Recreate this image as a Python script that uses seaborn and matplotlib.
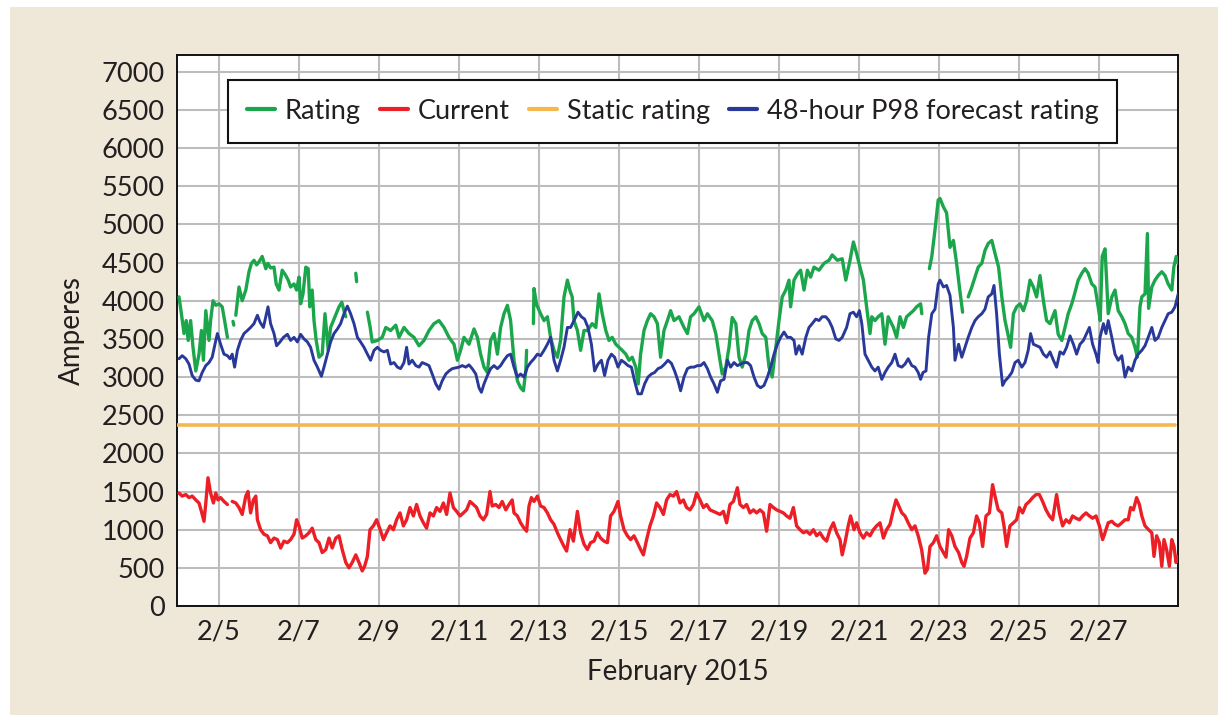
import numpy as np
import pandas as pd
import matplotlib
matplotlib.use("Agg")
import matplotlib.pyplot as plt
import matplotlib.dates as mdates
from matplotlib.lines import Line2D
from matplotlib.patches import Rectangle
from matplotlib.ticker import FuncFormatter
import seaborn as sns

# -----------------------------
# Data: (days after 2/4 00:00, amperes)
# -----------------------------
start = pd.Timestamp("2015-02-04")
GAP = (np.nan, np.nan)

rating = [
    (0.00, 4050), (0.06, 3830), (0.125, 3570), (0.18, 3740), (0.23, 3480), (0.29, 3740),
    (0.35, 3390), (0.42, 3080), (0.50, 3300), (0.56, 3610), (0.61, 3220), (0.67, 3870),
    (0.75, 3480), (0.79, 3740), (0.85, 4000), (0.92, 3940), (1.00, 3960), (1.08, 3920),
    (1.14, 3740), (1.21, 3520), GAP, (1.35, 3730), (1.37, 3680), GAP,
    (1.42, 3810), (1.50, 4180), (1.58, 4000), (1.67, 4140), (1.75, 4380), (1.81, 4490),
    (1.875, 4530), (1.94, 4470), (2.00, 4510), (2.08, 4580), (2.17, 4420), (2.22, 4490),
    (2.29, 4430), (2.375, 4440), (2.43, 4220), (2.50, 4140), (2.58, 4400), (2.67, 4330),
    (2.73, 4270), (2.79, 4180), (2.875, 4220), (2.94, 4140), (3.00, 4310), (3.04, 3960),
    (3.10, 4090), (3.17, 4440), (3.23, 4420), (3.27, 3920), (3.33, 4140), (3.375, 3740),
    (3.43, 3480), (3.50, 3260), (3.58, 3300), (3.65, 3830), (3.73, 3350), (3.79, 3650),
    (3.86, 3740), (3.93, 3830), (4.00, 3920), (4.07, 3980), (4.125, 3870), (4.17, 3790),
    GAP, (4.42, 4360), (4.44, 4250), GAP,
    (4.71, 3850), (4.78, 3650), (4.83, 3460), (4.96, 3480), (5.08, 3520), (5.17, 3650),
    (5.29, 3610), (5.42, 3680), (5.50, 3520), (5.625, 3650), (5.75, 3570), (5.875, 3520),
    (6.00, 3410), (6.125, 3480), (6.25, 3610), (6.375, 3700), (6.50, 3740), (6.625, 3650),
    (6.75, 3520), (6.875, 3430), (6.96, 3220), (7.04, 3350), (7.125, 3520), (7.25, 3430),
    (7.375, 3630), (7.46, 3520), (7.54, 3300), (7.625, 3130), (7.71, 3060), (7.79, 3480),
    (7.875, 3570), (7.96, 3300), (8.04, 3650), (8.125, 3830), (8.21, 3940), (8.29, 3740),
    (8.375, 3220), (8.46, 2950), (8.54, 2860), (8.61, 2820), (8.67, 3080), (8.69, 3350),
    GAP,
    (8.86, 3700), (8.875, 4160), (8.94, 3950), (9.04, 3830), (9.125, 3740), (9.21, 3790),
    (9.29, 3520), (9.375, 3350), (9.46, 3260), (9.54, 3480), (9.625, 4050), (9.71, 4270),
    (9.77, 4140), (9.83, 4050), (9.875, 3740), (9.96, 3610), (10.04, 3350), (10.125, 3610),
    (10.21, 3610), (10.33, 3700), (10.42, 3650), (10.50, 4090), (10.58, 3830), (10.67, 3610),
    (10.75, 3480), (10.83, 3520), (10.92, 3430), (11.00, 3390), (11.08, 3350), (11.17, 3300),
    (11.25, 3220), (11.33, 3260), (11.42, 3130), (11.48, 2910), (11.54, 3300), (11.625, 3610),
    (11.71, 3740), (11.79, 3830), (11.875, 3790), (11.96, 3700), (12.04, 3260), (12.125, 3610),
    (12.21, 3740), (12.29, 3870), (12.375, 3740), (12.50, 3790), (12.625, 3650), (12.71, 3570),
    (12.79, 3790), (12.875, 3830), (13.00, 3920), (13.125, 3740), (13.21, 3830), (13.33, 3740),
    (13.42, 3570), (13.50, 3300), (13.58, 3040), (13.67, 3130), (13.75, 3390), (13.83, 3780),
    (13.92, 3700), (14.00, 3260), (14.08, 3130), (14.17, 3300), (14.25, 3610), (14.33, 3740),
    (14.42, 3790), (14.50, 3700), (14.58, 3570), (14.67, 3520), (14.75, 3130), (14.83, 3000),
    (14.92, 3390), (15.00, 3740), (15.08, 4050), (15.17, 4140), (15.25, 4270), (15.29, 3920),
    (15.375, 4270), (15.46, 4350), (15.54, 4400), (15.625, 4140), (15.71, 4400), (15.79, 4310),
    (15.875, 4440), (16.00, 4400), (16.125, 4490), (16.25, 4530), (16.33, 4600), (16.46, 4530),
    (16.58, 4550), (16.67, 4270), (16.775, 4530), (16.86, 4770), (16.94, 4620), (17.025, 4440),
    (17.11, 4270), (17.19, 3920), (17.275, 3570), (17.32, 3790), (17.40, 3740), (17.48, 3790),
    (17.57, 3830), (17.65, 3430), (17.73, 3790), (17.86, 3650), (17.94, 3520), (18.025, 3790),
    (18.11, 3650), (18.19, 3790), (18.275, 3830), (18.36, 3870), (18.44, 3920), (18.54, 3960),
    (18.57, 3830), GAP,
    (18.76, 4420), (18.82, 4580), (18.90, 4930), (18.98, 5320), (19.025, 5340), (19.11, 5230),
    (19.19, 5150), (19.275, 4700), (19.36, 4790), (19.44, 4490), (19.51, 4180), (19.59, 3850),
    GAP,
    (19.73, 4050), (19.82, 4180), (19.90, 4310), (19.98, 4440), (20.07, 4490), (20.15, 4660),
    (20.23, 4750), (20.32, 4790), (20.40, 4620), (20.49, 4440), (20.57, 4050), (20.65, 3740),
    (20.74, 3520), (20.79, 3390), (20.86, 3830), (20.94, 3920), (21.025, 3960), (21.11, 3870),
    (21.19, 4000), (21.275, 4270), (21.36, 4180), (21.44, 4050), (21.525, 4330), (21.61, 4000),
    (21.69, 3740), (21.775, 3700), (21.90, 3870), (21.98, 3560), (22.07, 3480), (22.15, 3650),
    (22.23, 3830), (22.32, 3960), (22.40, 4110), (22.48, 4270), (22.57, 4360), (22.65, 4420),
    (22.73, 4360), (22.82, 4220), (22.90, 4180), (22.98, 3920), (23.03, 3740), (23.08, 4580),
    (23.15, 4680), (23.19, 4270), (23.23, 3830), (23.32, 4050), (23.40, 4140), (23.48, 3870),
    (23.57, 3790), (23.65, 3700), (23.73, 3570), (23.82, 3520), (23.90, 3390), (23.96, 3260),
    (24.025, 3920), (24.07, 4050), (24.15, 4090), (24.21, 4880), (24.24, 3900), (24.32, 4180),
    (24.40, 4270), (24.48, 4330), (24.57, 4380), (24.65, 4330), (24.73, 4220), (24.82, 4140),
    (24.87, 4440), (24.93, 4580), (24.98, 4490),
]

current = [
    (0.00, 1480), (0.08, 1440), (0.17, 1460), (0.25, 1420), (0.33, 1440), (0.42, 1390),
    (0.50, 1350), (0.56, 1240), (0.625, 1110), (0.67, 1350), (0.725, 1680), (0.79, 1480),
    (0.86, 1350), (0.92, 1480), (0.975, 1390), (1.04, 1420), (1.125, 1370), (1.21, 1330),
    GAP,
    (1.33, 1370), (1.42, 1350), (1.50, 1290), (1.58, 1200), (1.67, 1440), (1.725, 1500),
    (1.79, 1220), (1.86, 1390), (1.92, 1440), (1.96, 1130), (2.04, 1000), (2.125, 940),
    (2.21, 920), (2.29, 830), (2.375, 890), (2.46, 870), (2.54, 760), (2.625, 850),
    (2.71, 830), (2.79, 870), (2.875, 940), (2.94, 1130), (3.00, 1050), (3.08, 890),
    (3.17, 920), (3.25, 960), (3.33, 1020), (3.42, 870), (3.50, 830), (3.58, 700),
    (3.67, 740), (3.75, 890), (3.83, 760), (3.92, 890), (4.00, 920), (4.08, 740),
    (4.17, 570), (4.25, 500), (4.33, 570), (4.42, 670), (4.50, 570), (4.58, 460),
    (4.64, 520), (4.71, 650), (4.775, 1000), (4.86, 1050), (4.94, 1130), (5.03, 1000),
    (5.11, 870), (5.19, 960), (5.275, 1050), (5.36, 1000), (5.44, 1130), (5.525, 1220),
    (5.61, 1050), (5.69, 1130), (5.775, 1290), (5.86, 1180), (5.94, 1330), (6.025, 1180),
    (6.11, 1090), (6.19, 1020), (6.275, 1220), (6.36, 1180), (6.44, 1290), (6.525, 1240),
    (6.61, 1350), (6.69, 1200), (6.775, 1480), (6.86, 1290), (6.94, 1240), (7.025, 1180),
    (7.11, 1220), (7.19, 1260), (7.275, 1370), (7.36, 1330), (7.44, 1290), (7.525, 1180),
    (7.61, 1130), (7.69, 1200), (7.775, 1500), (7.83, 1310), (7.92, 1330), (8.00, 1290),
    (8.08, 1370), (8.17, 1260), (8.25, 1330), (8.33, 1390), (8.375, 1220), (8.46, 1180),
    (8.54, 1090), (8.625, 1020), (8.69, 980), (8.75, 1310), (8.81, 1420), (8.875, 1370),
    (8.96, 1440), (9.04, 1310), (9.125, 1290), (9.21, 1220), (9.29, 1130), (9.375, 1070),
    (9.46, 960), (9.54, 870), (9.625, 780), (9.69, 720), (9.775, 1000), (9.86, 850),
    (9.96, 1240), (10.04, 960), (10.125, 810), (10.21, 740), (10.29, 830), (10.375, 850),
    (10.46, 960), (10.54, 890), (10.625, 850), (10.71, 830), (10.79, 1180), (10.875, 1240),
    (10.975, 1370), (11.04, 1180), (11.125, 1000), (11.21, 920), (11.29, 870), (11.375, 920),
    (11.46, 830), (11.54, 740), (11.61, 670), (11.69, 870), (11.775, 1050), (11.86, 1180),
    (11.94, 1350), (12.025, 1290), (12.11, 1200), (12.19, 1390), (12.275, 1460), (12.36, 1440),
    (12.44, 1500), (12.525, 1350), (12.61, 1390), (12.69, 1290), (12.775, 1260), (12.86, 1330),
    (12.94, 1480), (13.025, 1390), (13.11, 1290), (13.19, 1330), (13.275, 1260), (13.36, 1240),
    (13.44, 1220), (13.525, 1200), (13.61, 1240), (13.69, 1090), (13.775, 1330), (13.86, 1370),
    (13.96, 1550), (14.025, 1330), (14.11, 1290), (14.19, 1330), (14.275, 1220), (14.36, 1260),
    (14.44, 1220), (14.525, 1260), (14.61, 1220), (14.69, 980), (14.775, 1330), (14.86, 1290),
    (14.94, 1260), (15.025, 1240), (15.11, 1220), (15.19, 1180), (15.275, 1150), (15.36, 1290),
    (15.44, 1050), (15.525, 1000), (15.61, 960), (15.69, 980), (15.775, 940), (15.86, 1000),
    (15.94, 920), (16.025, 960), (16.11, 890), (16.19, 850), (16.275, 1000), (16.36, 1090),
    (16.44, 960), (16.525, 870), (16.58, 670), (16.65, 830), (16.73, 1050), (16.79, 1180),
    (16.875, 1000), (16.94, 1090), (17.025, 960), (17.11, 890), (17.19, 960), (17.275, 920),
    (17.36, 1000), (17.44, 1050), (17.525, 1090), (17.61, 890), (17.69, 1000), (17.775, 1070),
    (17.86, 1260), (17.925, 1390), (17.98, 1330), (18.07, 1220), (18.15, 1180), (18.23, 1090),
    (18.32, 1000), (18.40, 1050), (18.48, 920), (18.565, 740), (18.65, 430), (18.71, 480),
    (18.775, 780), (18.86, 830), (18.94, 920), (19.025, 780), (19.11, 700), (19.175, 640),
    (19.24, 1000), (19.32, 920), (19.40, 780), (19.49, 700), (19.57, 570), (19.625, 520),
    (19.69, 650), (19.775, 890), (19.86, 960), (19.94, 1180), (20.01, 1090), (20.09, 780),
    (20.175, 1180), (20.26, 1220), (20.34, 1590), (20.40, 1440), (20.48, 1260), (20.57, 1220),
    (20.625, 1050), (20.69, 780), (20.775, 1050), (20.86, 1090), (20.94, 1130), (21.01, 1290),
    (21.09, 1220), (21.175, 1330), (21.26, 1370), (21.34, 1420), (21.425, 1460), (21.51, 1460),
    (21.59, 1370), (21.675, 1260), (21.76, 1180), (21.84, 1130), (21.94, 1460), (22.01, 1220),
    (22.09, 1050), (22.175, 1130), (22.26, 1090), (22.34, 1180), (22.425, 1150), (22.51, 1130),
    (22.59, 1180), (22.675, 1220), (22.76, 1180), (22.84, 1150), (22.925, 1180), (23.01, 1050),
    (23.09, 870), (23.15, 960), (23.23, 1090), (23.32, 1110), (23.40, 1070), (23.48, 1050),
    (23.57, 1090), (23.65, 1130), (23.73, 1130), (23.79, 1290), (23.86, 1260), (23.94, 1420),
    (24.01, 1330), (24.07, 1180), (24.15, 1050), (24.24, 1000), (24.32, 960), (24.375, 650),
    (24.44, 920), (24.51, 830), (24.57, 520), (24.625, 870), (24.69, 740), (24.76, 520),
    (24.82, 870), (24.875, 780), (24.925, 570), (24.98, 650),
]

forecast = [
    (0.00, 3240), (0.08, 3280), (0.17, 3240), (0.25, 3170), (0.33, 3020), (0.42, 2960),
    (0.50, 2950), (0.58, 3060), (0.67, 3150), (0.75, 3190), (0.83, 3260), (0.92, 3480),
    (0.96, 3570), (1.04, 3430), (1.125, 3300), (1.21, 3280), (1.275, 3240), (1.33, 3300),
    (1.39, 3130), (1.46, 3350), (1.54, 3480), (1.625, 3570), (1.71, 3610), (1.79, 3650),
    (1.875, 3700), (1.96, 3810), (2.025, 3720), (2.11, 3650), (2.17, 3790), (2.225, 3920),
    (2.29, 3700), (2.375, 3570), (2.44, 3410), (2.525, 3460), (2.61, 3520), (2.71, 3560),
    (2.79, 3480), (2.875, 3520), (2.96, 3460), (3.04, 3560), (3.125, 3500), (3.21, 3460),
    (3.29, 3390), (3.375, 3220), (3.46, 3130), (3.56, 3010), (3.625, 3130), (3.71, 3300),
    (3.79, 3460), (3.875, 3570), (3.96, 3630), (4.04, 3700), (4.125, 3830), (4.21, 3930),
    (4.29, 3830), (4.375, 3700), (4.46, 3520), (4.54, 3460), (4.625, 3390), (4.71, 3300),
    (4.79, 3220), (4.875, 3350), (4.96, 3390), (5.04, 3350), (5.125, 3330), (5.21, 3350),
    (5.29, 3170), (5.375, 3190), (5.46, 3130), (5.54, 3110), (5.625, 3190), (5.69, 3390),
    (5.75, 3170), (5.83, 3220), (5.92, 3150), (6.00, 3130), (6.08, 3190), (6.17, 3170),
    (6.25, 3150), (6.33, 3040), (6.42, 2910), (6.50, 2840), (6.58, 2950), (6.67, 3040),
    (6.75, 3080), (6.83, 3110), (6.92, 3120), (7.00, 3130), (7.08, 3150), (7.17, 3130),
    (7.25, 3160), (7.33, 3110), (7.42, 3040), (7.50, 2860), (7.56, 2800), (7.625, 2910),
    (7.71, 3020), (7.79, 3110), (7.875, 3150), (7.96, 3110), (8.04, 3150), (8.125, 3220),
    (8.21, 3280), (8.29, 3300), (8.375, 3130), (8.46, 3000), (8.54, 3040), (8.625, 3000),
    (8.71, 3130), (8.79, 3190), (8.875, 3240), (8.96, 3300), (9.04, 3280), (9.125, 3350),
    (9.21, 3430), (9.29, 3520), (9.375, 3220), (9.46, 3080), (9.54, 3220), (9.625, 3390),
    (9.71, 3650), (9.79, 3650), (9.875, 3740), (9.975, 3850), (10.06, 3790), (10.14, 3760),
    (10.225, 3650), (10.31, 3430), (10.39, 3080), (10.475, 3170), (10.56, 3220), (10.64, 3020),
    (10.725, 3220), (10.81, 3300), (10.89, 3260), (10.975, 3130), (11.06, 3220), (11.14, 3190),
    (11.225, 3150), (11.31, 3130), (11.39, 2950), (11.475, 2780), (11.56, 2780), (11.64, 2910),
    (11.725, 3000), (11.81, 3040), (11.89, 3060), (11.975, 3110), (12.06, 3130), (12.14, 3170),
    (12.225, 3220), (12.31, 3180), (12.39, 3080), (12.475, 2950), (12.54, 2820), (12.625, 3000),
    (12.71, 3110), (12.79, 3130), (12.875, 3130), (12.96, 3150), (13.04, 3150), (13.125, 3190),
    (13.21, 3110), (13.29, 3000), (13.375, 2910), (13.46, 2800), (13.54, 2950), (13.625, 2970),
    (13.71, 3220), (13.79, 3130), (13.875, 3190), (13.96, 3150), (14.04, 3170), (14.125, 3190),
    (14.21, 3190), (14.29, 3150), (14.375, 3000), (14.46, 2890), (14.54, 2860), (14.625, 2890),
    (14.71, 3000), (14.79, 3130), (14.875, 3300), (14.96, 3430), (15.04, 3520), (15.125, 3590),
    (15.21, 3520), (15.29, 3520), (15.375, 3480), (15.425, 3300), (15.50, 3410), (15.58, 3300),
    (15.67, 3520), (15.75, 3650), (15.83, 3700), (15.92, 3760), (16.00, 3740), (16.08, 3790),
    (16.17, 3790), (16.25, 3740), (16.33, 3650), (16.42, 3500), (16.50, 3480), (16.58, 3520),
    (16.69, 3650), (16.775, 3830), (16.86, 3850), (16.94, 3790), (17.01, 3870), (17.07, 3700),
    (17.15, 3300), (17.23, 3220), (17.32, 3130), (17.40, 3080), (17.48, 3130), (17.57, 2970),
    (17.65, 3060), (17.73, 3130), (17.82, 3190), (17.90, 3300), (17.98, 3150), (18.07, 3130),
    (18.15, 3170), (18.23, 3240), (18.32, 3150), (18.40, 3130), (18.48, 3060), (18.54, 2970),
    (18.60, 3060), (18.675, 3080), (18.74, 3520), (18.82, 3830), (18.90, 3890), (18.98, 4220),
    (19.025, 4270), (19.11, 4180), (19.19, 4200), (19.275, 4070), (19.36, 3650), (19.40, 3220),
    (19.49, 3430), (19.57, 3260), (19.65, 3390), (19.73, 3520), (19.82, 3650), (19.90, 3740),
    (19.98, 3790), (20.07, 3830), (20.15, 3890), (20.23, 4050), (20.32, 4090), (20.375, 4200),
    (20.44, 3830), (20.51, 3300), (20.59, 2890), (20.65, 2950), (20.74, 3000), (20.82, 3060),
    (20.90, 3190), (20.98, 3220), (21.07, 3130), (21.15, 3190), (21.23, 3350), (21.29, 3570),
    (21.36, 3430), (21.44, 3410), (21.525, 3390), (21.61, 3300), (21.69, 3260), (21.775, 3330),
    (21.86, 3220), (21.94, 3130), (22.025, 3330), (22.11, 3300), (22.19, 3390), (22.275, 3540),
    (22.36, 3430), (22.44, 3300), (22.525, 3430), (22.61, 3480), (22.69, 3570), (22.76, 3650),
    (22.84, 3430), (22.925, 3300), (22.98, 3190), (23.025, 3520), (23.11, 3700), (23.175, 3570),
    (23.23, 3740), (23.32, 3520), (23.40, 3300), (23.48, 3220), (23.57, 3280), (23.65, 3000),
    (23.73, 3130), (23.82, 3080), (23.90, 3220), (23.98, 3300), (24.07, 3350), (24.15, 3410),
    (24.23, 3520), (24.32, 3650), (24.40, 3480), (24.48, 3520), (24.57, 3650), (24.65, 3740),
    (24.73, 3830), (24.82, 3850), (24.90, 3920), (24.98, 4090),
]

static = [(-0.05, 2370), (24.90, 2370)]

series_names = ["Rating", "Current", "Static rating", "48-hour P98 forecast rating"]
series_colors = ["#1ba64b", "#ec1f26", "#f6b84e", "#29399a"]
y_ticks = list(range(0, 7001, 500))
x_tick_dates = [pd.Timestamp(2015, 2, d) for d in range(5, 28, 2)]


def to_frame(pairs):
    df = pd.DataFrame(pairs, columns=["day", "amps"])
    df["segment"] = df["amps"].isna().cumsum()
    df = df.dropna().copy()
    df["time"] = start + pd.to_timedelta(df["day"], unit="D")
    return df


frames = [to_frame(rating), to_frame(current), to_frame(static), to_frame(forecast)]

# -----------------------------
# Plot
# -----------------------------
sns.set_style("white")
plt.rcParams["font.family"] = ["Lato", "DejaVu Sans"]
plt.rcParams["text.color"] = "#231f20"
plt.rcParams["axes.labelcolor"] = "#231f20"
plt.rcParams["xtick.color"] = "#231f20"
plt.rcParams["ytick.color"] = "#231f20"

W, H = 1218, 715
fig = plt.figure(figsize=(W / 100, H / 100), dpi=100)
fig.patch.set_facecolor("white")
fig.patches.append(Rectangle((10 / W, 0), 1 - 10 / W, 1 - 7 / H,
                             transform=fig.transFigure, facecolor="#efe8d8",
                             edgecolor="none", zorder=-10))

ax = fig.add_axes([177 / W, 1 - 606 / H, (1178 - 177) / W, (606 - 55) / H])
ax.set_facecolor("white")

order = [2, 1, 0, 3]
widths = [2.4, 2.4, 2.6, 2.1]
for z, i in enumerate(order):
    sns.lineplot(data=frames[i], x="time", y="amps", units="segment",
                 estimator=None, color=series_colors[i], lw=widths[i],
                 ax=ax, legend=False, zorder=3 + z)

ax.set_xlim(start - pd.Timedelta(days=0.05), start + pd.Timedelta(days=24.975))
ax.set_ylim(0, 7220)
ax.set_yticks(y_ticks)
ax.set_xticks(x_tick_dates)
ax.xaxis.set_major_formatter(FuncFormatter(
    lambda v, p: f"{mdates.num2date(v).month}/{mdates.num2date(v).day}"))

ax.grid(True, color="#bdbdbd", lw=1.5)
ax.set_axisbelow(True)
for s in ax.spines.values():
    s.set_visible(True)
    s.set_color("#111111")
    s.set_linewidth(1.4)
ax.tick_params(axis="both", direction="out", length=5, width=1.3,
               labelsize=19.5, color="#111111")
ax.tick_params(axis="y", pad=4)
ax.tick_params(axis="x", pad=5)

ax.set_ylabel("Amperes", fontsize=20, labelpad=12)
ax.set_xlabel("February 2015", fontsize=20, labelpad=10)

handles = [Line2D([], [], color=c, lw=3) for c in series_colors]
leg = ax.legend(handles, series_names, loc="upper left",
                bbox_to_anchor=(0.051, 0.9546), ncol=4, frameon=True,
                fancybox=False, edgecolor="#111111", framealpha=1,
                fontsize=19.5, handlelength=1.05, handletextpad=0.35,
                columnspacing=0.7, borderpad=0.7, borderaxespad=0)
leg.get_frame().set_linewidth(1.5)
leg.set_zorder(20)

fig.savefig("out.png", dpi=100)
